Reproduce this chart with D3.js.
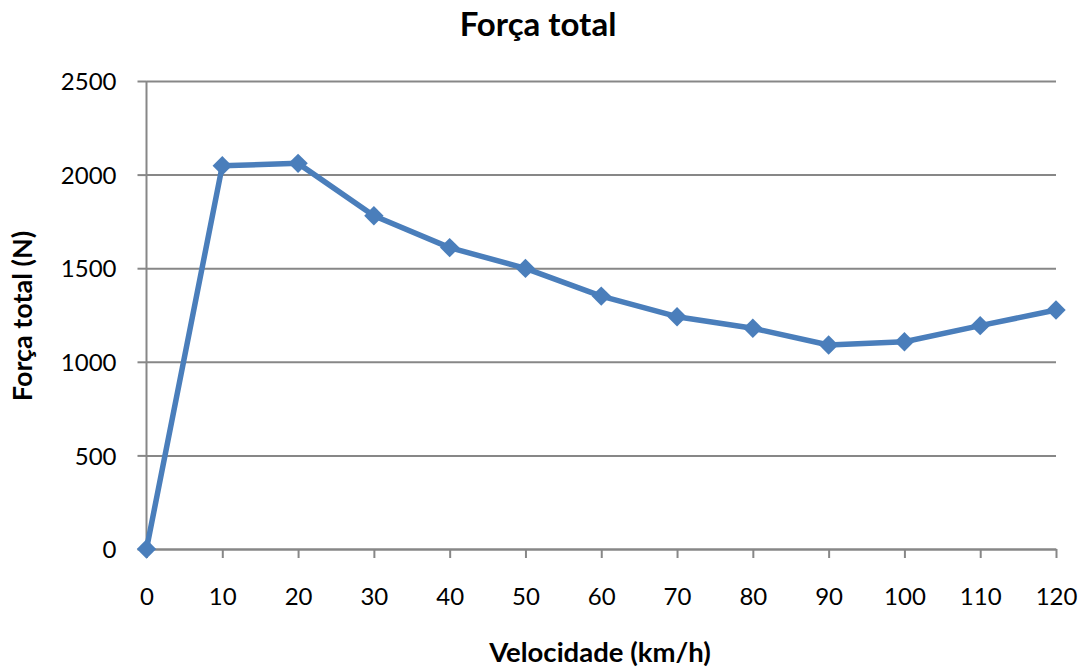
<!DOCTYPE html>
<html>
<head>
<meta charset="utf-8">
<script src="https://cdn.jsdelivr.net/npm/d3@7"></script>
<style>
  html, body { margin: 0; padding: 0; background: #fff; }
  svg { display: block; }
  svg text { font-family: Lato, "Open Sans", "Liberation Sans", sans-serif; }
</style>
</head>
<body>
<svg id="chart" width="1085" height="667"></svg>
<script>
// Velocidade (km/h) and the corresponding total force (N)
const velocidades = [0, 10, 20, 30, 40, 50, 60, 70, 80, 90, 100, 110, 120];
const forcaTotal = [0, 2047, 2060, 1780, 1610, 1499, 1351, 1241, 1179, 1090, 1107, 1193, 1277];
const yTicks = [0, 500, 1000, 1500, 2000, 2500];
const xTicks = [0, 10, 20, 30, 40, 50, 60, 70, 80, 90, 100, 110, 120];

const svg = d3.select("#chart");
const margin = { left: 146.5, right: 1056, top: 81, bottom: 549 };

const x = d3.scaleLinear().domain([0, 120]).range([margin.left, margin.right]);
const y = d3.scaleLinear().domain([0, 2500]).range([margin.bottom, margin.top]);

const gridColor = "#878787";
const fmt = d3.format("d");

// Horizontal gridlines with small outward ticks on the left
const yAxis = d3.axisLeft(y).tickValues(yTicks).tickFormat(fmt)
  .tickSize(-(margin.right - margin.left)).tickSizeOuter(0).tickPadding(0);
const gy = svg.append("g").attr("transform", `translate(${margin.left},0)`).call(yAxis)
  .attr("font-family", null).attr("font-size", null);
gy.select(".domain").remove();
gy.selectAll(".tick line").attr("stroke", gridColor).attr("stroke-width", 2);
gy.selectAll(".tick").append("line")
  .attr("x1", -9).attr("x2", 0).attr("stroke", gridColor).attr("stroke-width", 2);
gy.selectAll(".tick text")
  .attr("x", -30).attr("dy", "0.36em")
  .style("font-size", "24px").attr("fill", "#000").attr("text-anchor", "end");

// Vertical value axis line
svg.append("line")
  .attr("x1", margin.left).attr("x2", margin.left)
  .attr("y1", margin.top).attr("y2", margin.bottom)
  .attr("stroke", gridColor).attr("stroke-width", 2);

// Horizontal axis with downward ticks
const xAxis = d3.axisBottom(x).tickValues(xTicks).tickFormat(fmt)
  .tickSize(9).tickSizeOuter(0).tickPadding(0);
const gx = svg.append("g").attr("transform", `translate(0,${margin.bottom})`).call(xAxis)
  .attr("font-family", null).attr("font-size", null);
gx.select(".domain").attr("stroke", gridColor).attr("stroke-width", 2);
gx.selectAll(".tick line").attr("stroke", gridColor).attr("stroke-width", 2);
gx.selectAll(".tick text")
  .attr("y", 56).attr("dy", 0)
  .style("font-size", "24px").attr("fill", "#000");

// Data line
const pts = velocidades.map((v, i) => [v, forcaTotal[i]]);
svg.append("path")
  .datum(pts)
  .attr("fill", "none")
  .attr("stroke", "#4a7ebb")
  .attr("stroke-width", 5.5)
  .attr("stroke-linejoin", "round")
  .attr("d", d3.line().x(d => x(d[0])).y(d => y(d[1])));

// Diamond markers
const diamond = d3.symbol().type(d3.symbolDiamond2).size(240);
svg.append("g").selectAll("path")
  .data(pts)
  .join("path")
  .attr("transform", d => `translate(${x(d[0])},${y(d[1])})`)
  .attr("d", diamond)
  .attr("fill", "#4a7ebb");

// Titles
svg.append("text")
  .attr("x", 538).attr("y", 36)
  .attr("text-anchor", "middle")
  .style("font-size", "33px").attr("font-weight", "bold")
  .text("Força total");

svg.append("text")
  .attr("x", 600).attr("y", 662)
  .attr("text-anchor", "middle")
  .style("font-size", "27.5px").attr("font-weight", "bold")
  .text("Velocidade (km/h)");

svg.append("text")
  .attr("transform", "translate(32,316) rotate(-90)")
  .attr("text-anchor", "middle")
  .style("font-size", "27px").attr("font-weight", "bold")
  .text("Força total (N)");
</script>
</body>
</html>
